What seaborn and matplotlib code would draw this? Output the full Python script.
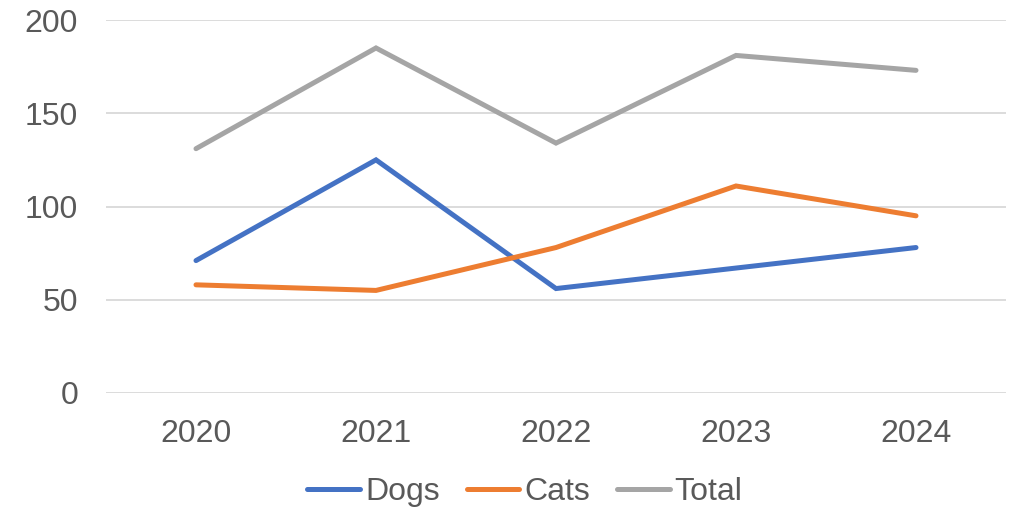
import matplotlib
matplotlib.use("Agg")
import matplotlib.pyplot as plt
import seaborn as sns
import pandas as pd

years = ["2020", "2021", "2022", "2023", "2024"]
dogs = [71, 125, 56, 67, 78]
cats = [58, 55, 78, 111, 95]
total = [131, 185, 134, 181, 173]
series_names = ["Dogs", "Cats", "Total"]
colors = ["#4472C4", "#ED7D31", "#A5A5A5"]
y_ticks = [0, 50, 100, 150, 200]

sns.set_theme(style="white")
plt.rcParams["font.family"] = ["Liberation Sans", "DejaVu Sans"]

rows = []
for name, vals in zip(series_names, [dogs, cats, total]):
    for i, (y, v) in enumerate(zip(years, vals)):
        rows.append({"pos": i, "year": y, "value": v, "series": name})
df = pd.DataFrame(rows)

fig = plt.figure(figsize=(10.23, 5.08), dpi=100)
ax = fig.add_axes([106 / 1023, 1 - 393 / 508, 900 / 1023, 373 / 508])

sns.lineplot(data=df, x="pos", y="value", hue="series", hue_order=series_names,
             palette=colors, linewidth=3.6, ax=ax, legend=True,
             solid_capstyle="round", solid_joinstyle="miter")

ax.set_xlim(-0.5, len(years) - 0.5)
ax.set_ylim(0, 200)
ax.set_xticks(range(len(years)))
ax.set_xticklabels(years)
ax.set_yticks(y_ticks)
ax.set_xlabel("")
ax.set_ylabel("")
for s in ax.spines.values():
    s.set_visible(False)
ax.grid(axis="y", color="#D9D9D9", linewidth=1.3)
ax.grid(axis="x", visible=False)
ax.set_axisbelow(True)
ax.tick_params(axis="both", colors="#595959", labelsize=23, length=0)
ax.tick_params(axis="y", pad=20)
ax.tick_params(axis="x", pad=19)

leg = ax.legend(loc="center", ncol=3, frameon=False,
                fontsize=23, handlelength=1.65, handletextpad=0.15,
                columnspacing=0.85, labelcolor="#595959")
leg.set_bbox_to_anchor((525 / 1023, (508 - 492) / 508), transform=fig.transFigure)
for line in leg.get_lines():
    line.set_linewidth(3.6)
    line.set_solid_capstyle("round")

fig.savefig("out.png", dpi=100)
